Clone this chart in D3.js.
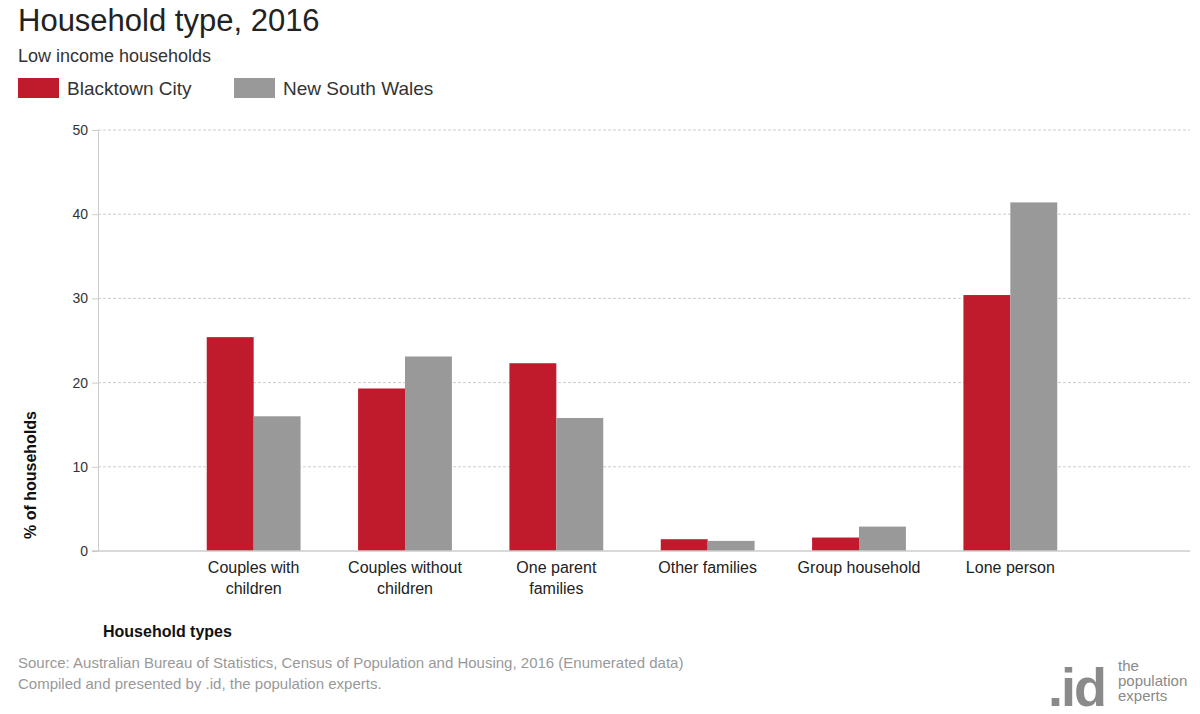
<!DOCTYPE html>
<html>
<head>
<meta charset="utf-8">
<script src="https://cdn.jsdelivr.net/npm/d3@7"></script>
<style>
  body { margin: 0; background: #fff; font-family: Arial, "Liberation Sans", sans-serif; }
</style>
</head>
<body>
<svg id="chart" width="1200" height="714"></svg>
<script>
// Chart data
var categories = ["Couples with\nchildren", "Couples without\nchildren", "One parent\nfamilies", "Other families", "Group household", "Lone person"];
var blacktown = [25.4, 19.3, 22.3, 1.4, 1.6, 30.4];
var nsw = [16.0, 23.1, 15.8, 1.2, 2.9, 41.4];
var seriesNames = ["Blacktown City", "New South Wales"];
var colors = ["#c01b2c", "#999999"];
var yTicks = [0, 10, 20, 30, 40, 50];

var svg = d3.select('#chart');

// Title block
svg.append('text').attr('x', 18).attr('y', 31).attr('font-size', 31).attr('fill', '#222').text('Household type, 2016');
svg.append('text').attr('x', 18).attr('y', 62).attr('font-size', 18).attr('fill', '#333').text('Low income households');

// Legend
var leg = svg.append('g').attr('transform', 'translate(18,78)');
seriesNames.forEach(function (n, i) {
  var off = i === 0 ? 0 : 216;
  leg.append('rect').attr('x', off).attr('y', 0).attr('width', 41).attr('height', 20).attr('fill', colors[i]);
  leg.append('text').attr('x', off + 49).attr('y', 17).attr('font-size', 19).attr('fill', '#333').text(n);
});

var plotTop = 130, plotBottom = 551, plotLeft = 98, plotRight = 1190;

var y = d3.scaleLinear().domain([0, 50]).range([plotBottom, plotTop]);
var x = d3.scaleBand().domain(categories).range([178, 1086]).paddingInner(0.38).paddingOuter(0.19);
var xs = d3.scaleBand().domain([0, 1]).range([0, x.bandwidth()]);

// Grid lines
svg.append('g').selectAll('line').data(yTicks.filter(function (d) { return d > 0; })).join('line')
  .attr('x1', plotLeft).attr('x2', plotRight)
  .attr('y1', function (d) { return y(d); }).attr('y2', function (d) { return y(d); })
  .attr('stroke', '#ccc').attr('stroke-dasharray', '3,2');

// Y axis
var yAxis = svg.append('g').attr('transform', 'translate(' + plotLeft + ',0)')
  .call(d3.axisLeft(y).tickValues(yTicks).tickSize(6).tickPadding(4));
yAxis.select('.domain').attr('stroke', '#ccc');
yAxis.selectAll('.tick line').attr('stroke', '#ccc');
yAxis.selectAll('text').attr('font-size', 14).attr('fill', '#333').attr('font-family', 'Arial, "Liberation Sans", sans-serif');

// Bars
var groups = svg.append('g').selectAll('g').data(categories).join('g')
  .attr('transform', function (d) { return 'translate(' + x(d) + ',0)'; });
groups.selectAll('rect').data(function (d, i) { return [blacktown[i], nsw[i]]; }).join('rect')
  .attr('x', function (d, j) { return xs(j); })
  .attr('width', xs.bandwidth())
  .attr('y', function (d) { return y(d); })
  .attr('height', function (d) { return plotBottom - y(d); })
  .attr('fill', function (d, j) { return colors[j]; });

// X axis
svg.append('line').attr('x1', plotLeft - 6).attr('x2', plotRight).attr('y1', plotBottom).attr('y2', plotBottom).attr('stroke', '#ccc').attr('stroke-width', 1.5);
categories.forEach(function (c) {
  var t = svg.append('text').attr('x', x(c) + x.bandwidth() / 2).attr('y', 573)
    .attr('text-anchor', 'middle').attr('font-size', 16).attr('fill', '#222');
  c.split('\n').forEach(function (line, k) {
    t.append('tspan').attr('x', x(c) + x.bandwidth() / 2).attr('dy', k === 0 ? 0 : 21).text(line);
  });
});

// Axis titles
svg.append('text').attr('x', 103).attr('y', 637).attr('font-size', 16).attr('font-weight', 'bold').attr('fill', '#111').text('Household types');
svg.append('text').attr('transform', 'translate(36,475) rotate(-90)').attr('text-anchor', 'middle')
  .attr('font-size', 16).attr('font-weight', 'bold').attr('fill', '#111').text('% of households');

// Source
svg.append('text').attr('x', 18).attr('y', 668).attr('font-size', 15).attr('fill', '#999')
  .text('Source: Australian Bureau of Statistics, Census of Population and Housing, 2016 (Enumerated data)');
svg.append('text').attr('x', 18).attr('y', 689).attr('font-size', 15).attr('fill', '#999')
  .text('Compiled and presented by .id, the population experts.');

// Logo
svg.append('text').attr('x', 1048).attr('y', 706).attr('font-size', 54).attr('font-weight', 'bold').attr('fill', '#8a8a8a').attr('letter-spacing', -2).text('.id');
['the', 'population', 'experts'].forEach(function (w, i) {
  svg.append('text').attr('x', 1118).attr('y', 671 + i * 15).attr('font-size', 15).attr('fill', '#8a8a8a').text(w);
});
</script>
</body>
</html>
